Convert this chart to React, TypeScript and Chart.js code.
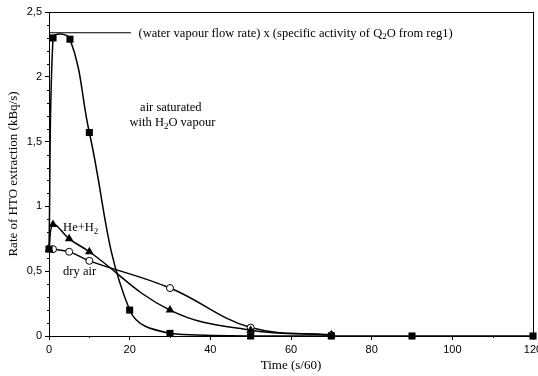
import React, { useEffect, useRef } from "react";
import { Chart, registerables } from "chart.js";

Chart.register(...registerables);

// Air saturated with H2O vapour (filled squares)
const airSatX = [0, 1, 5.2, 10, 20, 30, 50, 70, 90, 120];
const airSatY = [0.67, 2.3, 2.29, 1.57, 0.2, 0.02, 0.0, 0.0, 0.0, 0.0];
// He + H2 (filled triangles)
const heH2X = [0, 1, 5, 10, 30, 50, 70];
const heH2Y = [0.67, 0.86, 0.75, 0.65, 0.2, 0.045, 0.01];
// Dry air (open circles)
const dryAirX = [1, 5, 10, 30, 50, 70];
const dryAirY = [0.67, 0.65, 0.58, 0.37, 0.065, 0.005];
// Reference level line: (water vapour flow rate) x (specific activity)
const refLineX = [0, 20.3];
const refLineY = [2.34, 2.34];

const xTicks = [0, 20, 40, 60, 80, 100, 120];
const xTickLabels = ["0", "20", "40", "60", "80", "100", "120"];
const yTicks = [0, 0.5, 1, 1.5, 2, 2.5];
const yTickLabels = ["0", "0,5", "1", "1,5", "2", "2,5"];
const xMinorTicks = [10, 30, 50, 70, 90, 110];
const yMinorTicks = [0.1, 0.2, 0.3, 0.4, 0.6, 0.7, 0.8, 0.9, 1.1, 1.2, 1.3, 1.4, 1.6, 1.7, 1.8, 1.9, 2.1, 2.2, 2.3, 2.4];

const SERIF = '"Liberation Serif", "Times New Roman", serif';
const SANS = '"Liberation Sans", Arial, sans-serif';

type Part = [string, boolean];

function drawRich(ctx: CanvasRenderingContext2D, parts: Part[], x: number, y: number, size: number, align: "left" | "center") {
  const mainFont = `${size}px ${SERIF}`;
  const subFont = `${Math.round(size * 0.7)}px ${SERIF}`;
  let total = 0;
  const widths: number[] = [];
  for (const [t, sub] of parts) {
    ctx.font = sub ? subFont : mainFont;
    const w = ctx.measureText(t).width;
    widths.push(w);
    total += w;
  }
  let cx = align === "center" ? x - total / 2 : x;
  ctx.textBaseline = "middle";
  ctx.textAlign = "left";
  ctx.fillStyle = "#000";
  parts.forEach(([t, sub], i) => {
    ctx.font = sub ? subFont : mainFont;
    ctx.fillText(t, cx, sub ? y + size * 0.28 : y);
    cx += widths[i];
  });
}

const toPts = (xs: number[], ys: number[]) => xs.map((x, i) => ({ x, y: ys[i] }));

export default function App() {
  const ref = useRef<HTMLCanvasElement | null>(null);

  useEffect(() => {
    if (!ref.current) return;
    const framePlugin = {
      id: "frameAndNotes",
      afterDatasetsDraw(chart: any) {
        const { ctx, chartArea: a, scales } = chart;
        const xs = scales.x;
        const ys = scales.y;
        ctx.save();
        ctx.strokeStyle = "#000";
        ctx.lineWidth = 1;
        ctx.strokeRect(Math.round(a.left) + 0.5, Math.round(a.top) + 0.5, Math.round(a.right - a.left), Math.round(a.bottom - a.top));
        // minor ticks
        ctx.beginPath();
        for (const v of xMinorTicks) {
          const px = Math.round(xs.getPixelForValue(v)) + 0.5;
          ctx.moveTo(px, a.bottom);
          ctx.lineTo(px, a.bottom + 2);
        }
        for (const v of yMinorTicks) {
          const py = Math.round(ys.getPixelForValue(v)) + 0.5;
          ctx.moveTo(a.left, py);
          ctx.lineTo(a.left - 2, py);
        }
        ctx.stroke();
        // annotations
        drawRich(ctx, [["(water vapour flow rate) x (specific activity of Q", false], ["2", true], ["O from reg1)", false]], xs.getPixelForValue(22.2), ys.getPixelForValue(2.335), 12.5, "left");
        drawRich(ctx, [["air saturated", false]], xs.getPixelForValue(30.2), ys.getPixelForValue(1.76), 12.5, "center");
        drawRich(ctx, [["with H", false], ["2", true], ["O vapour", false]], xs.getPixelForValue(30.6), ys.getPixelForValue(1.645), 12.5, "center");
        drawRich(ctx, [["He+H", false], ["2", true]], xs.getPixelForValue(3.5), ys.getPixelForValue(0.835), 12.5, "left");
        drawRich(ctx, [["dry air", false]], xs.getPixelForValue(3.5), ys.getPixelForValue(0.495), 12.5, "left");
        ctx.restore();
      },
    };

    const chart = new Chart(ref.current, {
      type: "line",
      data: {
        datasets: [
          {
            label: "air saturated with H2O vapour",
            data: toPts(airSatX, airSatY),
            borderColor: "#000",
            backgroundColor: "#000",
            borderWidth: 1.5,
            tension: 0.4,
            pointStyle: "rect",
            pointRadius: 5,
            pointBorderWidth: 0,
            pointBackgroundColor: "#000",
            clip: false,
          },
          {
            label: "He+H2",
            data: toPts(heH2X, heH2Y),
            borderColor: "#000",
            backgroundColor: "#000",
            borderWidth: 1.5,
            tension: 0.4,
            pointStyle: "triangle",
            pointRadius: 5,
            pointBorderWidth: 0,
            pointBackgroundColor: "#000",
            clip: false,
          },
          {
            label: "dry air",
            data: toPts(dryAirX, dryAirY),
            borderColor: "#000",
            backgroundColor: "#fff",
            borderWidth: 1.5,
            tension: 0.4,
            pointStyle: "circle",
            pointRadius: 3.5,
            pointBorderWidth: 1,
            pointBackgroundColor: "#fff",
            pointBorderColor: "#000",
            clip: false,
          },
          {
            label: "reference",
            data: toPts(refLineX, refLineY),
            borderColor: "#000",
            borderWidth: 1,
            tension: 0,
            pointRadius: 0,
            clip: false,
          },
        ],
      },
      options: {
        animation: false,
        responsive: true,
        maintainAspectRatio: false,
        layout: { padding: { top: 12, right: 5, bottom: 0, left: 0 } },
        plugins: { legend: { display: false }, tooltip: { enabled: false }, title: { display: false } },
        scales: {
          x: {
            type: "linear",
            min: 0,
            max: 120,
            afterBuildTicks: (s: any) => {
              s.ticks = xTicks.map((v) => ({ value: v }));
            },
            afterFit: (s: any) => {
              s.height = 40;
              s.paddingRight = 0;
              s.paddingLeft = 0;
            },
            ticks: {
              font: { family: SANS, size: 11 },
              color: "#000",
              padding: 3,
              maxRotation: 0,
              autoSkip: false,
              callback: (_v: any, i: number) => xTickLabels[i],
            },
            grid: { drawOnChartArea: false, drawTicks: true, tickLength: 4, color: "#000" },
            border: { color: "#000", width: 1 },
            title: {
              display: true,
              text: "Time (s/60)",
              font: { family: SERIF, size: 13 },
              color: "#000",
              padding: { top: 0, bottom: 3 },
            },
          },
          y: {
            type: "linear",
            min: 0,
            max: 2.5,
            afterBuildTicks: (s: any) => {
              s.ticks = yTicks.map((v) => ({ value: v }));
            },
            afterFit: (s: any) => {
              s.width = 49;
            },
            ticks: {
              font: { family: SANS, size: 11 },
              color: "#000",
              padding: 3,
              autoSkip: false,
              callback: (_v: any, i: number) => yTickLabels[i],
            },
            grid: { drawOnChartArea: false, drawTicks: true, tickLength: 4, color: "#000" },
            border: { color: "#000", width: 1 },
            title: {
              display: true,
              text: "Rate of HTO extraction (kBq/s)",
              font: { family: SERIF, size: 13 },
              color: "#000",
              padding: { top: 6, bottom: 0 },
            },
          },
        },
      },
      plugins: [framePlugin],
    });
    return () => chart.destroy();
  }, []);

  return (
    <div style={{ position: "absolute", left: 0, top: 0, width: 538, height: 376, background: "#fff" }}>
      <canvas ref={ref} />
    </div>
  );
}
